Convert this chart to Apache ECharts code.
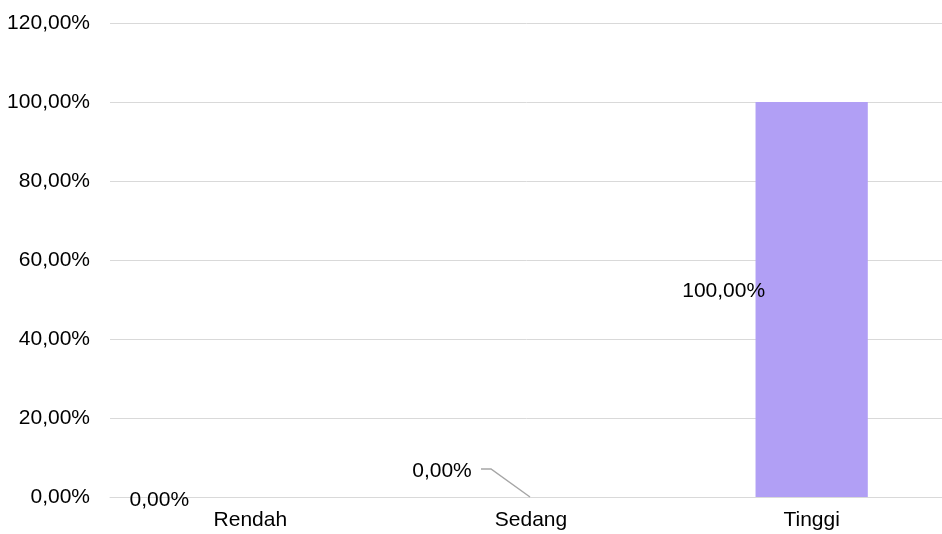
<!DOCTYPE html>
<html>
<head>
<meta charset="utf-8">
<script src="https://cdn.jsdelivr.net/npm/echarts@6/dist/echarts.min.js"></script>
<style>
  html, body { margin: 0; padding: 0; background: #fff; }
  #chart { width: 942px; height: 534px; }
</style>
</head>
<body>
<div id="chart"></div>
<script>
// data
const categories = ['Rendah', 'Sedang', 'Tinggi'];
const values = [0, 0, 100];
// label shifts from the bar centre (px)
const labelShift = [[-91, 3], [-89, -26], [-88, -8]];

function pct(v) {
  return v.toFixed(2).replace('.', ',') + '%';
}

let myChart = echarts.init(document.getElementById('chart'));

let option = {
  animation: false,
  textStyle: { fontFamily: 'Liberation Sans, Arial, sans-serif' },
  grid: { left: 110, right: -10, top: 23, bottom: 37, outerBoundsMode: 'none' },
  xAxis: {
    type: 'category',
    data: categories,
    axisLine: { lineStyle: { color: '#d9d9d9', width: 1 } },
    axisTick: { show: false },
    axisLabel: { color: '#000', fontSize: 21, margin: 13 }
  },
  yAxis: {
    type: 'value',
    min: 0,
    max: 120,
    interval: 20,
    axisLine: { show: false },
    axisTick: { show: false },
    splitLine: { lineStyle: { color: '#d9d9d9', width: 1 } },
    axisLabel: {
      color: '#000',
      fontSize: 21,
      margin: 20,
      formatter: v => pct(v)
    }
  },
  series: [{
    type: 'bar',
    data: values,
    barWidth: '40%',
    itemStyle: { color: '#b19ff5' },
    label: {
      show: true,
      position: 'inside',
      color: '#000',
      fontSize: 21,
      formatter: p => pct(p.value)
    },
    labelLayout: p => ({ dx: labelShift[p.dataIndex][0], dy: labelShift[p.dataIndex][1] })
  }]
};

myChart.setOption(option);

// leader line for the moved "Sedang" label
let a = myChart.convertToPixel({ seriesIndex: 0 }, [1, values[1]]);
myChart.setOption({
  graphic: [{
    type: 'polyline',
    shape: { points: [[a[0] - 50, a[1] - 28], [a[0] - 40, a[1] - 28], [a[0] - 1, a[1]]] },
    style: { stroke: '#a6a6a6', lineWidth: 1.5, fill: null },
    z: 10
  }]
});
</script>
</body>
</html>
